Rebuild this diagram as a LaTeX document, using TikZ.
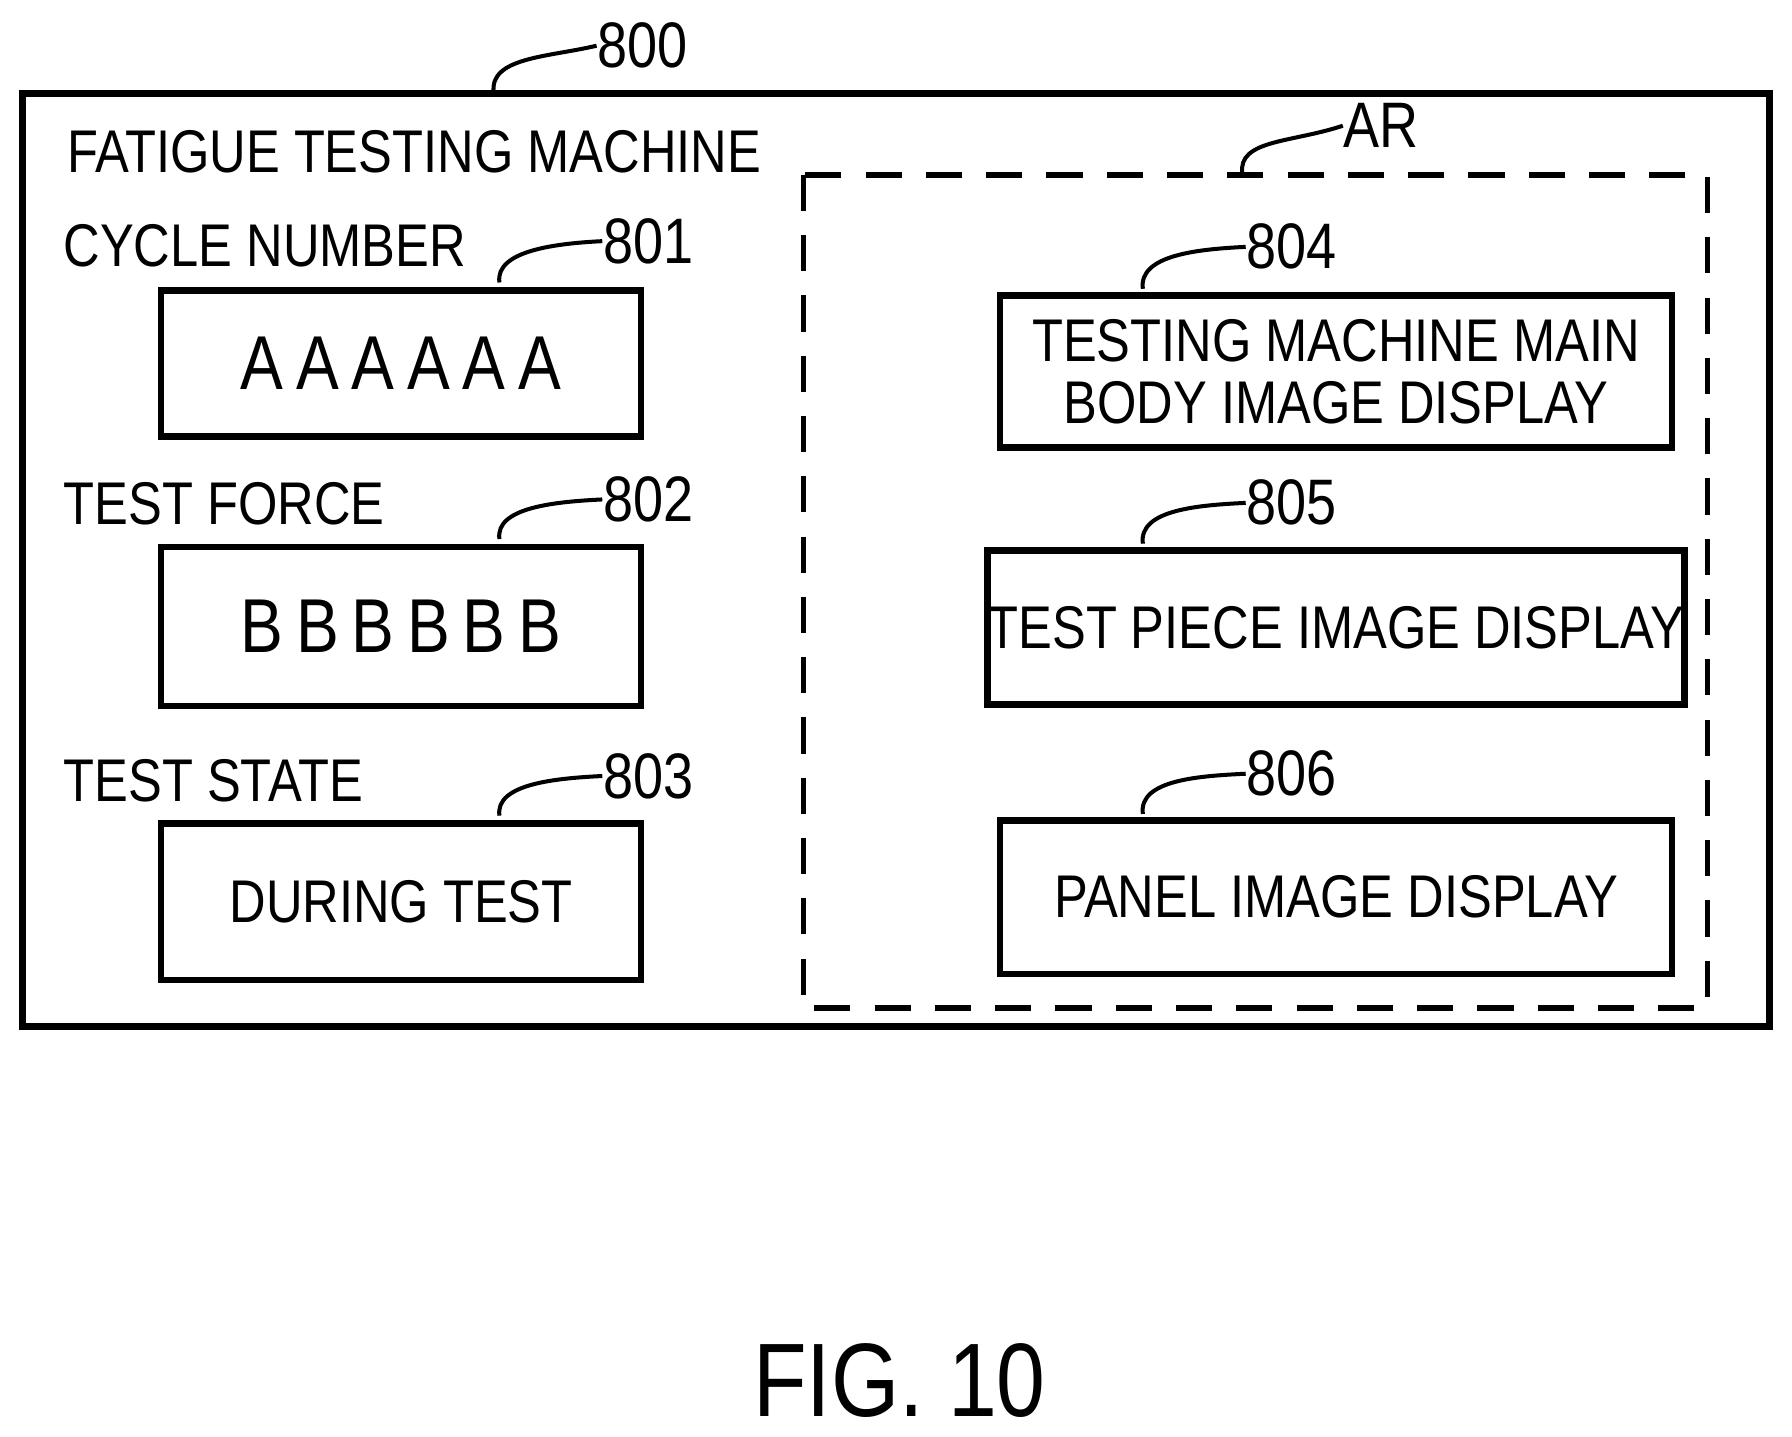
\documentclass[tikz,border=0pt]{standalone}
\usepackage{fontspec}
\setmainfont{Liberation Sans}[FakeStretch=0.84]
\usetikzlibrary{positioning}
\begin{document}
\begin{tikzpicture}[x = 0.01cm, y = -0.01cm]
			% Styles for boxes, labels and leader lines
			\tikzset{panel/.style = {draw, line width = 1.6pt, inner sep = 0pt, font = \fontsize{15}{17}\selectfont, align = center}}
			\tikzset{caption/.style = {anchor = west, inner sep = 0pt, font = \fontsize{15}{17}\selectfont}}
			\tikzset{refnum/.style = {anchor = west, inner sep = 0pt, font = \fontsize{16}{18}\selectfont}}
			\tikzset{leader/.style = {line width = 1pt}}

			\useasboundingbox (0,0) rectangle (1568,1257);

			% Outer frame and dashed area
			\draw[line width = 1.8pt] (20,82) rectangle (1548,898);
			\draw[line width = 1.4pt, dash pattern = on 9pt off 6pt] (703,153) rectangle (1494,882);

			% Captions
			\node[caption] (title) at (58,133) {FATIGUE TESTING MACHINE};
			\node[caption] (cycle) at (55,215) {CYCLE NUMBER};
			\node[caption] (force) at (55,441) {TEST FORCE};
			\node[caption] (state) at (55,683) {TEST STATE};

			% Left boxes
			\node[panel, minimum width = 420*0.01cm, minimum height = 128*0.01cm, font = \fontsize{19}{21}\selectfont] (cyclebox) at (351,318) {A\,A\,A\,A\,A\,A};
			\node[panel, minimum width = 420*0.01cm, minimum height = 139*0.01cm, font = \fontsize{19}{21}\selectfont] (forcebox) at (351,548) {B\,B\,B\,B\,B\,B};
			\node[panel, minimum width = 420*0.01cm, minimum height = 137*0.01cm] (statebox) at (351,789) {DURING TEST};

			% Right boxes
			\node[panel, minimum width = 588*0.01cm, minimum height = 133*0.01cm, font = \fontsize{15}{15.5}\selectfont] (mainbox) at (1169,325) {TESTING MACHINE MAIN\\BODY IMAGE DISPLAY};
			\node[panel, minimum width = 588*0.01cm, minimum height = 135*0.01cm] (piecebox) at (1169,549) {TEST PIECE IMAGE DISPLAY};
			\node[panel, minimum width = 588*0.01cm, minimum height = 134*0.01cm] (panelbox) at (1169,785) {PANEL IMAGE DISPLAY};

			% Reference numbers
			\node[refnum] (n800) at (522,40) {800};
			\node[refnum] (n801) at (527,211) {801};
			\node[refnum] (n802) at (527,437) {802};
			\node[refnum] (n803) at (527,679) {803};
			\node[refnum] (nAR) at (1175,110) {AR};
			\node[refnum] (n804) at (1090,216) {804};
			\node[refnum] (n805) at (1090,440) {805};
			\node[refnum] (n806) at (1090,677) {806};

			% Leader lines
			\draw[leader] (432,81) .. controls (428,50) and (480,50) .. (n800.west);
			\draw[leader] (cyclebox.north) ++(86,-4) .. controls +(-4,-28) and +(-40,2) .. (n801.west);
			\draw[leader] (forcebox.north) ++(86,-4) .. controls +(-4,-28) and +(-40,2) .. (n802.west);
			\draw[leader] (statebox.north) ++(86,-4) .. controls +(-4,-28) and +(-40,2) .. (n803.west);
			\draw[leader] (1087,152) .. controls (1083,122) and (1130,125) .. (nAR.west);
			\draw[leader] (mainbox.north) ++(-169,-3) .. controls +(-4,-30) and +(-40,2) .. (n804.west);
			\draw[leader] (piecebox.north) ++(-169,-3) .. controls +(-4,-30) and +(-40,2) .. (n805.west);
			\draw[leader] (panelbox.north) ++(-169,-3) .. controls +(-4,-30) and +(-40,2) .. (n806.west);

			% Figure label
			\node[font = \fontsize{26}{28}\selectfont] (fig) at (787,1208) {FIG. 10};
\end{tikzpicture}
\end{document}
